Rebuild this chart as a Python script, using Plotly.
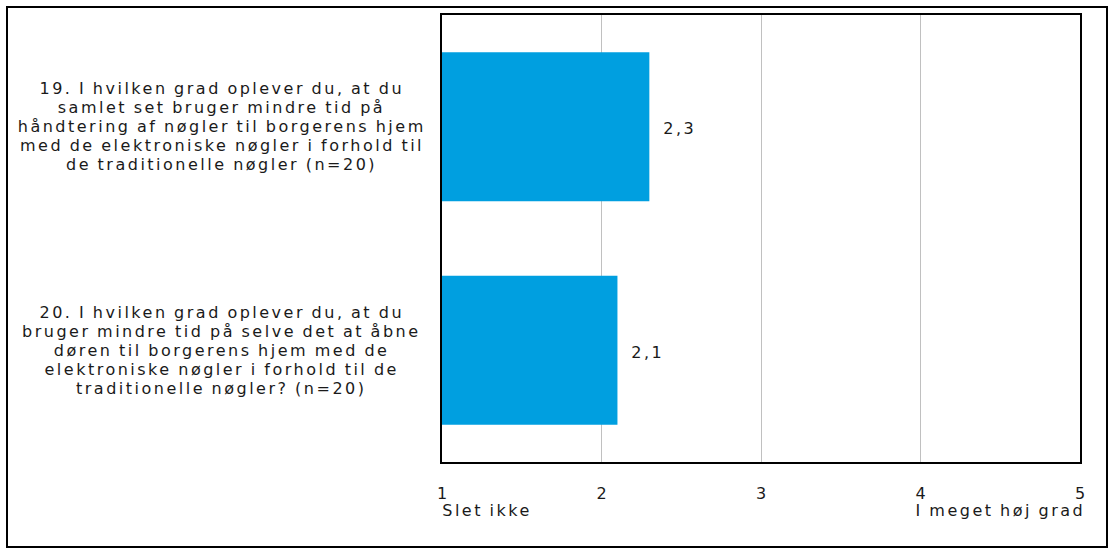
import plotly.graph_objects as go

category_lines = [
    ["19. I hvilken grad oplever du, at du",
     "samlet set bruger mindre tid på",
     "håndtering af nøgler til borgerens hjem",
     "med de elektroniske nøgler i forhold til",
     "de traditionelle nøgler (n=20)"],
    ["20. I hvilken grad oplever du, at du",
     "bruger mindre tid på selve det at åbne",
     "døren til borgerens hjem med de",
     "elektroniske nøgler i forhold til de",
     "traditionelle nøgler? (n=20)"],
]
cat_ids = ["q19", "q20"]
values = [2.3, 2.1]
tick_vals = [1, 2, 3, 4, 5]
tick_text = ["1", "2", "3", "4", "5"]
scale_low = "Slet ikke"
scale_high = "I meget høj grad"

FONT = "DejaVu Sans"
FS = 16
LINE_H = 19
BAR_COLOR = "#009FE0"
TEXT_COLOR = "#1a1a1a"

L, R, T, B = 442, 35, 15, 93
W, H = 1115, 555
pw, ph = W - L - R, H - T - B

def px_x(p):
    return (p - L) / pw

def px_y(p):
    return (H - B - p) / ph

fig = go.Figure()
fig.add_trace(go.Bar(
    y=cat_ids,
    x=[v - 1 for v in values],
    base=1,
    orientation="h",
    marker=dict(color=BAR_COLOR, line=dict(width=0)),
    hoverinfo="skip",
    showlegend=False,
))

annotations = []
for cid, lines in zip(cat_ids, category_lines):
    n = len(lines)
    for i, line in enumerate(lines):
        annotations.append(dict(
            x=px_x(222), xref="paper", y=cid, yref="y",
            text=line, showarrow=False, align="center",
            xanchor="center", yanchor="middle",
            yshift=-(i - (n - 1) / 2) * LINE_H,
            font=dict(family=FONT, size=FS, color=TEXT_COLOR),
        ))
for cid, v in zip(cat_ids, values):
    annotations.append(dict(
        x=v, xref="x", y=cid, yref="y",
        text=f"{v:.1f}".replace(".", ","), showarrow=False,
        xanchor="left", yanchor="middle", xshift=16, yshift=-2,
        font=dict(family=FONT, size=FS, color=TEXT_COLOR),
    ))
annotations.append(dict(
    x=px_x(487), xref="paper", y=px_y(510), yref="paper",
    text=scale_low, showarrow=False, xanchor="center", yanchor="middle",
    font=dict(family=FONT, size=FS, color=TEXT_COLOR),
))
annotations.append(dict(
    x=px_x(1000), xref="paper", y=px_y(510), yref="paper",
    text=scale_high, showarrow=False, xanchor="center", yanchor="middle",
    font=dict(family=FONT, size=FS, color=TEXT_COLOR),
))

fig.update_layout(
    width=W, height=H,
    margin=dict(l=L, r=R, t=T, b=B),
    paper_bgcolor="white", plot_bgcolor="white",
    bargap=0.333,
    annotations=annotations,
    shapes=[dict(
        type="rect", xref="paper", yref="paper",
        x0=px_x(7), x1=px_x(1107), y0=px_y(547), y1=px_y(7),
        line=dict(color="black", width=2), fillcolor="rgba(0,0,0,0)",
        layer="below",
    )],
    xaxis=dict(
        range=[1, 5], tickvals=tick_vals, ticktext=tick_text,
        showgrid=True, gridcolor="#C0C0C0", gridwidth=1,
        showline=True, linecolor="black", linewidth=2, mirror=True,
        zeroline=False, ticks="", ticklabelstandoff=16,
        tickfont=dict(family=FONT, size=FS, color=TEXT_COLOR),
        fixedrange=True,
    ),
    yaxis=dict(
        categoryorder="array", categoryarray=cat_ids, autorange="reversed",
        showticklabels=False, showgrid=False,
        showline=True, linecolor="black", linewidth=2, mirror=True,
        zeroline=False, ticks="", fixedrange=True,
    ),
)

# The reference typesets text with wide tracking; reproduce with CSS letter spacing.
style_js = (
    "var s=document.createElement('style');"
    "s.textContent='.js-plotly-plot .annotation-text{letter-spacing:2.5px;word-spacing:-1px;}';"
    "document.head.appendChild(s);"
)

fig.write_html("out.html", post_script=style_js)
